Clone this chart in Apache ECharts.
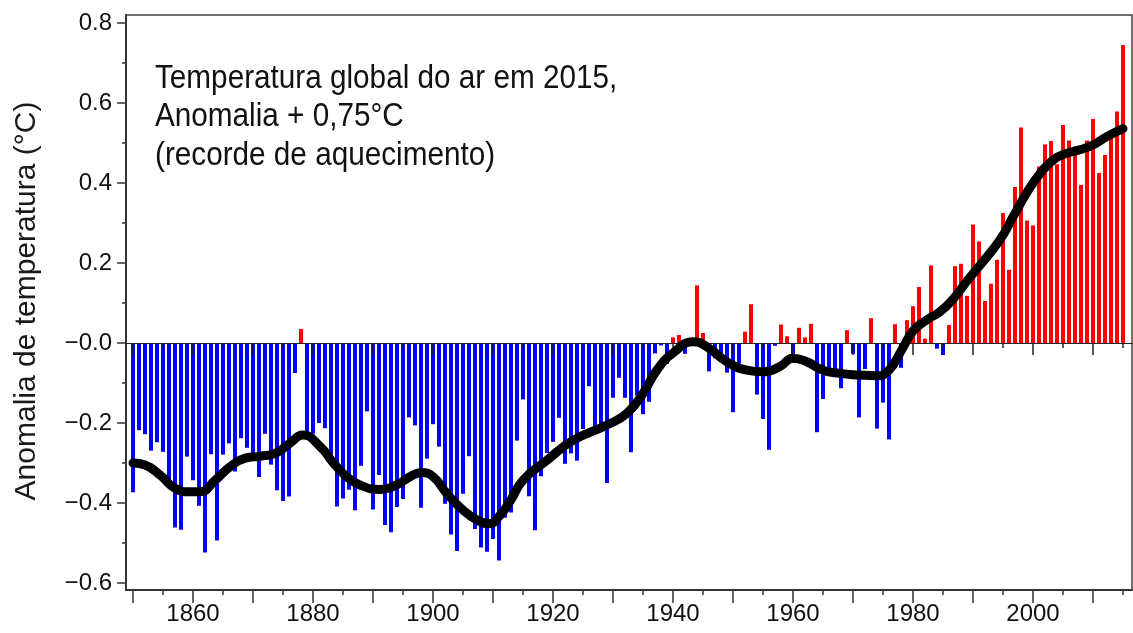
<!DOCTYPE html>
<html><head><meta charset="utf-8">
<script src="https://cdn.jsdelivr.net/npm/echarts@6/dist/echarts.min.js"></script>
<style>html,body{margin:0;padding:0;background:#fff}#c{width:1133px;height:633px}</style>
</head><body><div id="c"></div>
<script>
// ---- data ----
const startYear = 1850;
const anomalies = [
 -0.373,-0.218,-0.228,-0.269,-0.248,-0.272,-0.358,-0.461,-0.467,-0.284,
 -0.343,-0.407,-0.524,-0.278,-0.494,-0.279,-0.251,-0.321,-0.238,-0.262,
 -0.276,-0.335,-0.227,-0.304,-0.368,-0.395,-0.384,-0.075,0.035,-0.230,
 -0.227,-0.200,-0.213,-0.296,-0.409,-0.389,-0.367,-0.418,-0.307,-0.171,
 -0.416,-0.330,-0.455,-0.473,-0.410,-0.390,-0.186,-0.206,-0.412,-0.289,
 -0.203,-0.259,-0.402,-0.479,-0.520,-0.377,-0.283,-0.465,-0.511,-0.522,
 -0.490,-0.544,-0.437,-0.424,-0.244,-0.141,-0.383,-0.468,-0.333,-0.275,
 -0.247,-0.187,-0.302,-0.276,-0.294,-0.215,-0.108,-0.210,-0.206,-0.350,
 -0.137,-0.087,-0.137,-0.273,-0.131,-0.178,-0.147,-0.026,-0.006,-0.052,
 0.014,0.020,-0.027,-0.004,0.144,0.025,-0.071,-0.038,-0.039,-0.074,
 -0.173,-0.052,0.028,0.097,-0.129,-0.190,-0.267,-0.007,0.046,0.017,
 -0.049,0.038,0.014,0.048,-0.223,-0.140,-0.068,-0.074,-0.113,0.032,
 -0.027,-0.186,-0.065,0.062,-0.214,-0.149,-0.241,0.047,-0.062,0.057,
 0.092,0.140,0.011,0.194,-0.014,-0.030,0.045,0.192,0.198,0.118,
 0.296,0.254,0.105,0.148,0.208,0.325,0.183,0.390,0.539,0.306,
 0.294,0.441,0.496,0.505,0.447,0.545,0.506,0.491,0.395,0.506,
 0.560,0.425,0.470,0.514,0.579,0.745
];
const smoothYears = [1850,1852,1854.5,1857,1859.5,1861.2,1863.7,1866.2,1868.7,1871.2,1873.7,1876.2,1878.3,
 1881.2,1883.4,1885.6,1887.8,1891.2,1893.9,1896.2,1898.1,1900,1902.3,1905,1907.5,1909.3,1911.2,1913,
 1915,1919,1923.4,1929,1932.3,1935,1937.3,1940,1943.4,1945.6,1949,1952.3,1955,1957.8,1960,1962.3,
 1965,1967.8,1971,1974,1976,1978.2,1980,1982.3,1984.5,1986.7,1988.9,1991.2,1994.5,1996.7,1998.9,
 2001.2,2003.4,2005.6,2007.8,2010,2012.3,2015];
const smoothValues = [-0.300,-0.305,-0.330,-0.363,-0.372,-0.372,-0.343,-0.309,-0.288,-0.283,-0.276,-0.250,-0.230,
 -0.259,-0.300,-0.334,-0.355,-0.366,-0.355,-0.334,-0.324,-0.334,-0.376,-0.418,-0.444,-0.452,-0.430,-0.392,
 -0.343,-0.293,-0.243,-0.205,-0.176,-0.126,-0.068,-0.025,0.003,-0.009,-0.047,-0.068,-0.072,-0.059,-0.038,-0.047,
 -0.068,-0.076,-0.080,-0.082,-0.068,-0.015,0.030,0.058,0.078,0.110,0.153,0.195,0.258,0.316,0.374,
 0.424,0.458,0.474,0.483,0.495,0.516,0.536];
const yTickValues = [-0.6,-0.4,-0.2,0,0.2,0.4,0.6,0.8];
const yMinorTickValues = [-0.5,-0.3,-0.1,0.1,0.3,0.5,0.7];
const xMajorTicks = [1850,1860,1870,1880,1890,1900,1910,1920,1930,1940,1950,1960,1970,1980,1990,2000,2010];
const xMinorTicks = [1855,1865,1875,1885,1895,1905,1915,1925,1935,1945,1955,1965,1975,1985,1995,2005,2015];
const xLabels = [1860,1880,1900,1920,1940,1960,1980,2000];
const annotationLines = ['Temperatura global do ar em 2015,','Anomalia + 0,75°C','(recorde de aquecimento)'];
const yTitle = 'Anomalia de temperatura (°C)';

// ---- chart ----
const FONT = "'Liberation Sans', Arial, sans-serif";
const chart = echarts.init(document.getElementById('c'), null, {renderer:'canvas'});
const barData = anomalies.map((v,i)=>[startYear+i, v]);
const lineData = smoothYears.map((y,i)=>[y, smoothValues[i]]);
const xCommon = {type:'value', min:1848.83, max:2016.5, splitLine:{show:false}, position:'bottom'};
const yCommon = {type:'value', min:-0.6175, max:0.82, splitLine:{show:false}, position:'left'};
const fmtY = v => {
  if (Math.abs(v) < 1e-9) return '\u22120.0';
  return v < 0 ? '\u2212' + Math.abs(v).toFixed(1) : v.toFixed(1);
};
chart.setOption({
  animation:false,
  backgroundColor:'#fff',
  grid:{left:126, right:1, top:15, bottom:43, show:true, borderColor:'#444', borderWidth:1.5, backgroundColor:'transparent', outerBoundsMode:'none'},
  xAxis:[
    Object.assign({}, xCommon, {
      axisLine:{show:true, onZero:false, lineStyle:{color:'#333', width:2}},
      axisTick:{show:true, customValues:xMajorTicks, length:13, lineStyle:{color:'#333', width:1.5}},
      axisLabel:{show:true, customValues:xLabels, fontSize:24, color:'#111', margin:12, fontFamily:FONT, formatter:v=>String(v)}
    }),
    Object.assign({}, xCommon, {
      axisLine:{show:false, onZero:false},
      axisTick:{show:true, customValues:xMinorTicks, length:5, lineStyle:{color:'#333', width:1.5}},
      axisLabel:{show:false}
    }),
    Object.assign({}, xCommon, {
      z:5,
      axisLine:{show:true, onZero:true, onZeroAxisIndex:0, lineStyle:{color:'#222', width:1}},
      axisTick:{show:true, customValues:xMajorTicks, length:12, lineStyle:{color:'#222', width:1.5}},
      axisLabel:{show:false}
    }),
    Object.assign({}, xCommon, {
      z:5,
      axisLine:{show:true, onZero:true, onZeroAxisIndex:0, lineStyle:{color:'#222', width:1}},
      axisTick:{show:true, customValues:xMinorTicks, length:5, lineStyle:{color:'#222', width:1.5}},
      axisLabel:{show:false}
    })
  ],
  yAxis:[
    Object.assign({}, yCommon, {
      axisLine:{show:true, onZero:false, lineStyle:{color:'#333', width:2}},
      axisTick:{show:true, customValues:yTickValues, length:9, lineStyle:{color:'#333', width:1.5}},
      axisLabel:{show:true, customValues:yTickValues, formatter:fmtY, fontSize:24, color:'#111', margin:14, fontFamily:FONT}
    }),
    Object.assign({}, yCommon, {
      axisLine:{show:false, onZero:false},
      axisTick:{show:true, customValues:yMinorTickValues, length:4, lineStyle:{color:'#333', width:1.5}},
      axisLabel:{show:false}
    })
  ],
  series:[
    {
      type:'bar', xAxisIndex:0, yAxisIndex:0, data:barData, barWidth:4, z:2,
      itemStyle:{color:p => p.value[1] >= 0 ? '#ff0000' : '#0000ff'}
    },
    {
      type:'line', xAxisIndex:0, yAxisIndex:0, data:lineData, smooth:true, symbol:'none', z:10,
      lineStyle:{color:'#000', width:9, cap:'round', join:'round'}
    }
  ],
  graphic:[
    {type:'text', x:27, y:301, rotation:Math.PI/2, style:{text:yTitle, fontSize:30, fontFamily:FONT, fill:'#1a1a1a', textAlign:'center', textVerticalAlign:'middle'}},
    {type:'text', x:155, y:79, scaleX:0.9, style:{text:annotationLines[0], fontSize:33, fontFamily:FONT, fill:'#111', textAlign:'left', textVerticalAlign:'middle'}},
    {type:'text', x:155, y:117, scaleX:0.9, style:{text:annotationLines[1], fontSize:33, fontFamily:FONT, fill:'#111', textAlign:'left', textVerticalAlign:'middle'}},
    {type:'text', x:155, y:156, scaleX:0.9, style:{text:annotationLines[2], fontSize:33, fontFamily:FONT, fill:'#111', textAlign:'left', textVerticalAlign:'middle'}}
  ]
});
</script>
</body></html>
